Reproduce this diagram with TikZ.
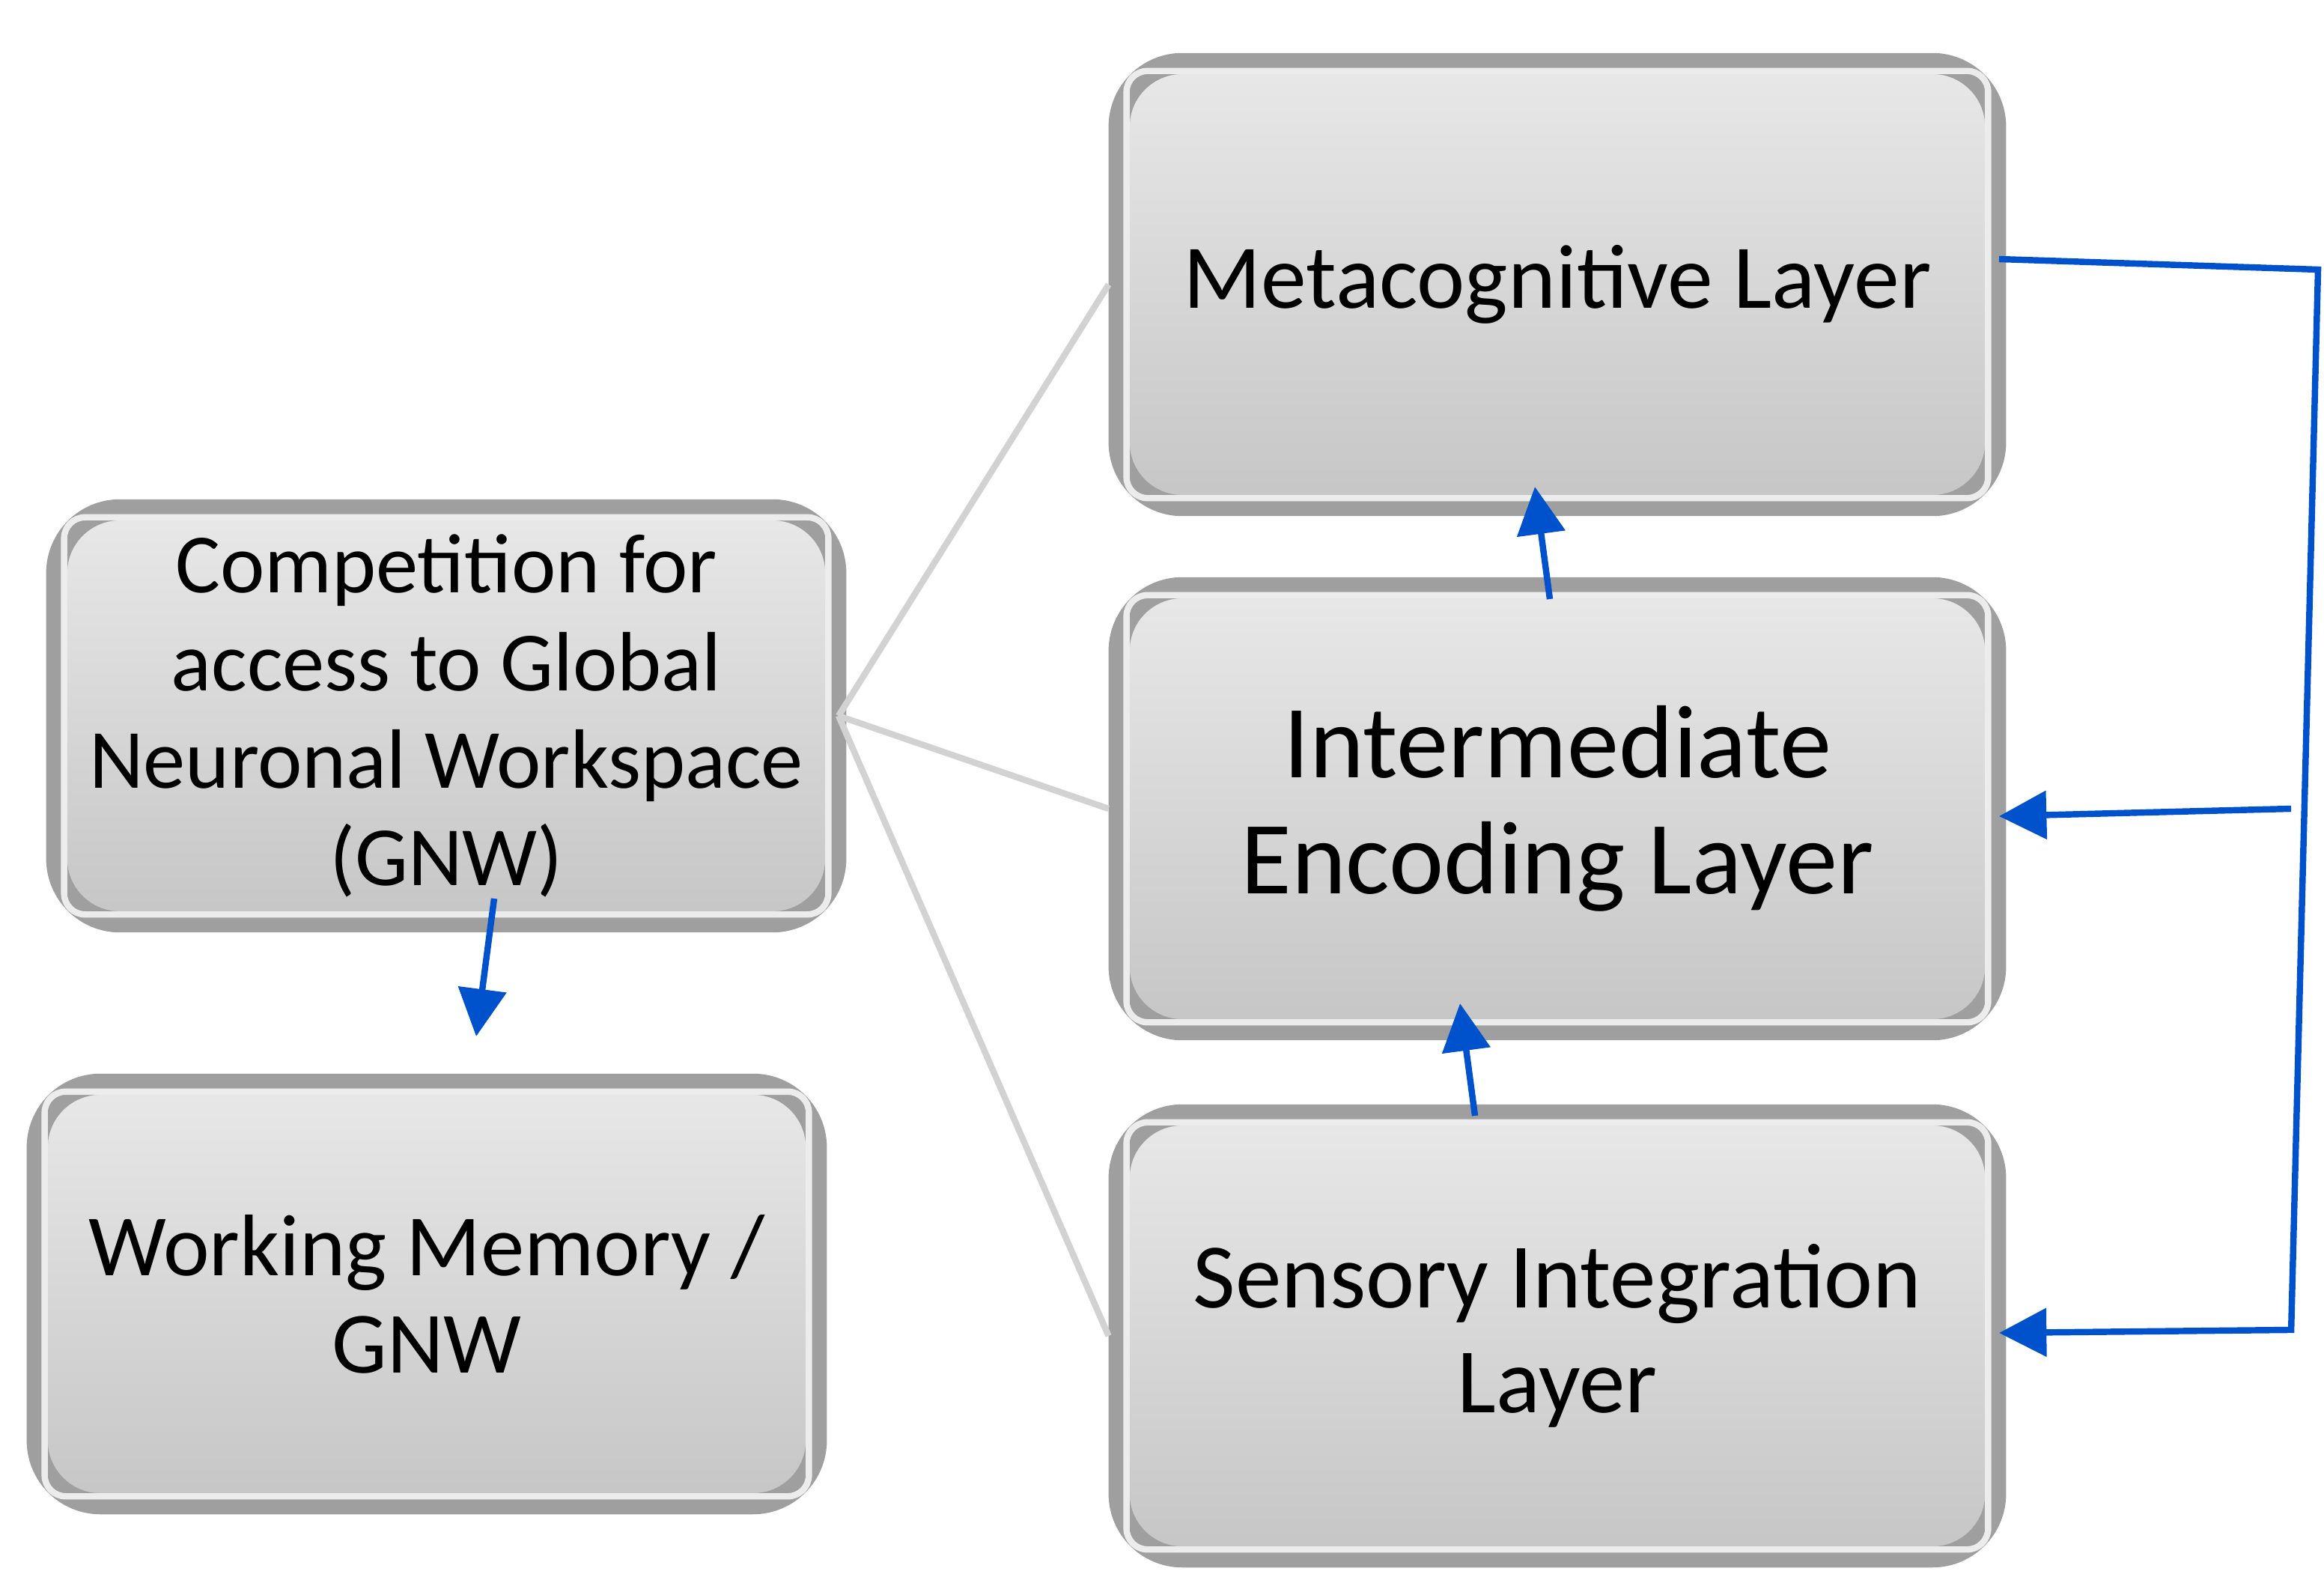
\documentclass[tikz,border=0pt]{standalone}
\usepackage{fontspec}
\setmainfont{Carlito}
\usetikzlibrary{arrows.meta}
\begin{document}
\begin{tikzpicture}[x=0.01cm,y=-0.01cm,
 box/.style={rounded corners=12pt, draw=gray!75, line width=4pt, top color=gray!18, bottom color=gray!45, align=center, inner sep=0pt},
 inner/.style={draw=white!85!gray, line width=1.2pt, rounded corners=4pt},
 link/.style={draw=gray!35, line width=1.2pt},
 arr/.style={draw=blue!60!cyan!80!black, line width=1.2pt, -{Triangle[length=9pt,width=9pt]}},
 fb/.style={draw=blue!60!cyan!80!black, line width=1.2pt}]
\useasboundingbox (0,0) rectangle (1552,1061);
\node[box, minimum width=5.85cm, minimum height=2.95cm, font=\fontsize{17.3}{21}\selectfont] (meta) at (1040,190) {Metacognitive Layer};
\node[box, minimum width=5.85cm, minimum height=2.95cm, font=\fontsize{19.7}{22}\selectfont] (inter) at (1040,540) {Intermediate\\Encoding Layer};
\node[box, minimum width=5.85cm, minimum height=2.95cm, font=\fontsize{17.5}{20}\selectfont] (sens) at (1040,892) {Sensory Integration\\Layer};
\node[box, minimum width=5.2cm, minimum height=2.75cm, font=\fontsize{16}{18.5}\selectfont] (comp) at (298,478) {Competition for\\access to Global\\Neuronal Workspace\\(GNW)};
\node[box, minimum width=5.2cm, minimum height=2.8cm, font=\fontsize{16.6}{18.5}\selectfont] (wm) at (285,864) {Working Memory /\\GNW};
\foreach \n in {meta,inter,sens,comp,wm}{
 \draw[inner] ([shift={(12,-12)}]\n.south west) rectangle ([shift={(-12,12)}]\n.north east);}
\coordinate (hub) at (560,478);
\draw[link] (hub) -- (meta.west);
\draw[link] (hub) -- (inter.west);
\draw[link] (hub) -- (sens.west);
\coordinate (c1) at (330,600);
\coordinate (c2) at (318,692);
\draw[arr] (c1) -- (c2);
\coordinate (a1) at (1035,400);
\coordinate (a2) at (1025,325);
\coordinate (b1) at (985,745);
\coordinate (b2) at (975,670);
\draw[arr] (a1) -- (a2);
\draw[arr] (b1) -- (b2);
\coordinate (m0) at (1335,173);
\coordinate (r1) at (1548,180);
\coordinate (r5) at (1530,890);
\coordinate (r2) at (1530,540);
\coordinate (r3) at (1528,888);
\coordinate (t2) at (1335,545);
\coordinate (t3) at (1335,890);
\draw[fb] (m0) -- (r1) -- (r5);
\draw[arr] (r2) -- (t2);
\draw[arr] (r3) -- (t3);
\end{tikzpicture}
\end{document}
